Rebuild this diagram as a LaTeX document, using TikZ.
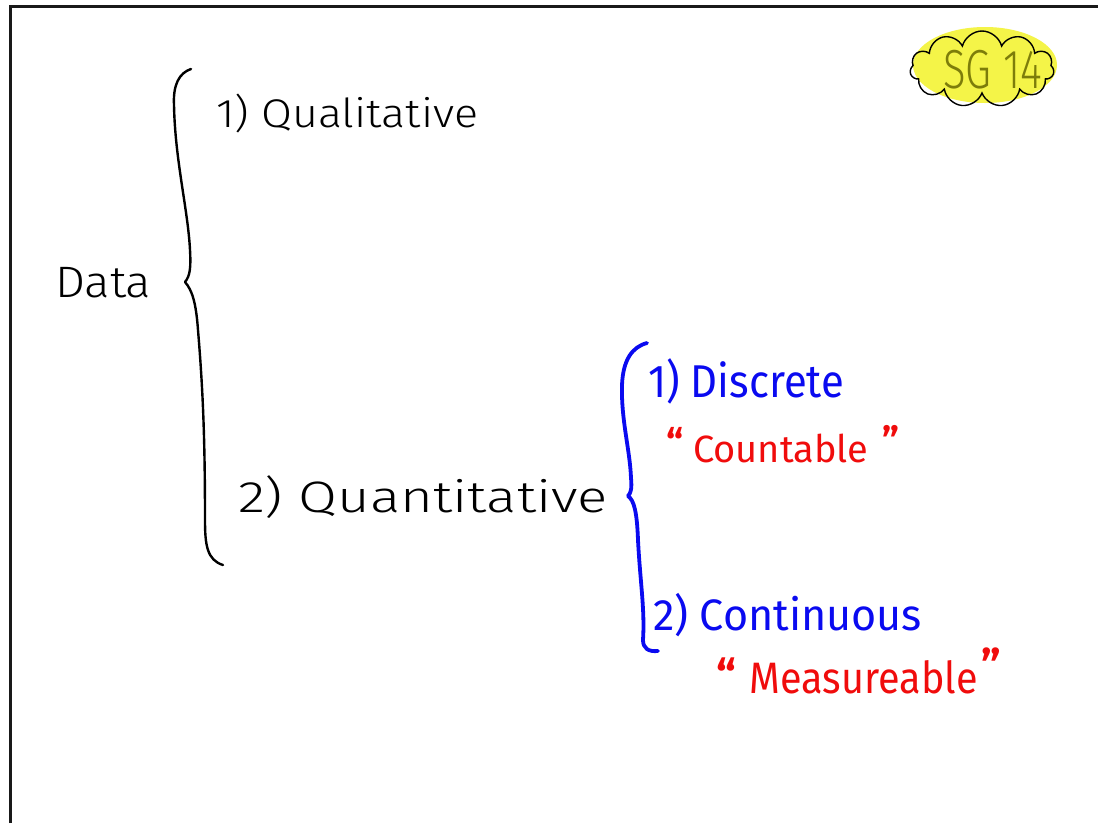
\documentclass[tikz,border=0pt]{standalone}
\usepackage{graphicx}
\usepackage{fontspec}
\setmainfont{Fira Sans}
\newfontfamily\inkthin{Fira Sans Light}
\usetikzlibrary{shapes.symbols}
\definecolor{inkblue}{RGB}{10,10,240}
\definecolor{inkred}{RGB}{240,12,12}
\definecolor{marker}{RGB}{244,244,72}
\definecolor{markertext}{RGB}{125,125,10}
\definecolor{frameink}{RGB}{25,25,25}
\begin{document}
\begin{tikzpicture}[x=1pt,y=-1pt,
  pen/.style={line width=2.4pt, line cap=round, line join=round},
  bluepen/.style={line width=3.8pt, draw=inkblue, line cap=round, line join=round},
  lbl/.style={anchor=base west, inner sep=0pt, outer sep=0pt},
  blacktext/.style={lbl, text=black},
  bluetext/.style={lbl, text=inkblue},
  redtext/.style={lbl, text=inkred},
]
\useasboundingbox (0,0) rectangle (1098,823);
\fill[white] (0,0) rectangle (1098,823);

% page frame (top and left edges)
\draw[line width=3pt, frameink] (10.5,823) -- (10.5,6.5) -- (1098,6.5);

% highlighted tag
\fill[marker] (985,65) ellipse [x radius=72, y radius=38];
\node[cloud, draw=black, line width=1.4pt, cloud puffs=11, aspect=2.0,
      minimum width=144pt, minimum height=76pt, inner sep=0pt] (cloud) at (982,69) {};
\node[lbl, text=markertext] (tag) at (943,88)
  {\inkthin\fontsize{55}{55}\selectfont\scalebox{0.76}[1]{SG 14}};

% main brace
\draw[pen] (191,69) .. controls (179,73) and (173,85) .. (174,105)
  .. controls (175,160) and (188,210) .. (190,250)
  .. controls (191,268) and (190,276) .. (185,282)
  .. controls (192,290) and (196,302) .. (198,330)
  .. controls (203,390) and (205,440) .. (205,520)
  .. controls (205,545) and (207,560) .. (223,565);

\node[blacktext] (data) at (55,297)
  {\inkthin\fontsize{44}{44}\selectfont\scalebox{1.08}[1]{Data}};
\node[blacktext] (qual) at (216,127)
  {\inkthin\fontsize{40}{40}\selectfont\scalebox{1.12}[1]{1) Qualitative}};
\node[blacktext] (quant) at (238,512)
  {\inkthin\fontsize{44}{44}\selectfont\scalebox{1.28}[1]{2) Quantitative}};

% sub brace
\draw[bluepen] (647,343) .. controls (632,347) and (623,360) .. (622,385)
  .. controls (621,420) and (630,450) .. (631,478)
  .. controls (632,488) and (631,493) .. (628,496)
  .. controls (634,500) and (637,512) .. (638,540)
  .. controls (640,580) and (645,610) .. (643,640)
  .. controls (643,648) and (648,652) .. (658,651);

\node[bluetext] (disc) at (648,397)
  {\fontsize{46}{46}\selectfont\scalebox{0.91}[1]{1) Discrete}};
\node[redtext] (count) at (666,462)
  {\fontsize{38}{38}\selectfont\raisebox{6pt}{\bfseries “}\hspace{10pt}Countable\hspace{14pt}\raisebox{8pt}{\bfseries ”}};
\node[bluetext] (cont) at (653,630)
  {\fontsize{44}{44}\selectfont\scalebox{0.98}[1]{2) Continuous}};
\node[redtext] (meas) at (716,693)
  {\fontsize{44}{44}\selectfont\raisebox{2pt}{\bfseries “}\hspace{14pt}\scalebox{0.9}[1]{Measureable}\hspace{4pt}\raisebox{12pt}{\bfseries ”}};
\end{tikzpicture}
\end{document}
